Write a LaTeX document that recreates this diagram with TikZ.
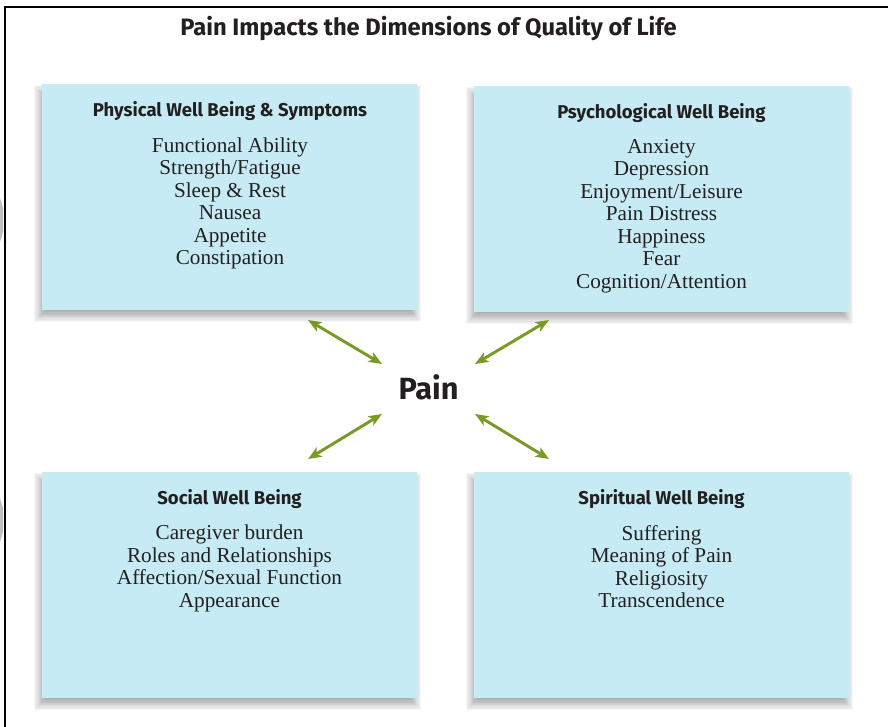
\documentclass[tikz,border=0pt]{standalone}
\usepackage{fontspec}
\setmainfont{Liberation Serif}
\setsansfont{Fira Sans}
\usetikzlibrary{arrows.meta}
\definecolor{boxfill}{RGB}{198,235,244}
\definecolor{arrowgreen}{RGB}{122,154,38}
\definecolor{ink}{RGB}{35,31,32}
\newcommand\softshadow[4]{%
  \foreach \d in {-6,-4.8,...,6.1} {%
    \fill[black,opacity=0.035] ({#1-2-(\d)},{#2+7-(\d)}) rectangle ({#3-2+(\d)},{#4+6+(\d)});
  }%
}
\begin{document}
\begin{tikzpicture}[x=0.75pt,y=-0.75pt,
  qbox/.style={rectangle, fill=boxfill, minimum width=281.25pt, minimum height=169.5pt, inner sep=0pt},
  boxtitle/.style={font=\sffamily\bfseries\fontsize{13.9}{16}\selectfont, text=ink, anchor=base, inner sep=0pt},
  items/.style={font=\fontsize{15.9}{16.85}\selectfont, text=ink, align=center, anchor=north, inner sep=0pt},
  link/.style={draw=arrowgreen, line width=2.2pt, {Stealth[length=10pt,width=8pt,inset=2.5pt]}-{Stealth[length=10pt,width=8pt,inset=2.5pt]}}
]
\path[use as bounding box, fill=white] (0,0) rectangle (888,727);
% page artifacts at left edge
\fill[black!25] (0,198) -- (3,208) -- (3,232) -- (0,242) -- cycle;
\fill[black!25] (0,498) -- (3,508) -- (3,532) -- (0,542) -- cycle;
% frame
\draw[black, line width=1.5pt] (5,727) -- (5,7) -- (888,7);

\node[font=\sffamily\bfseries\fontsize{17.8}{21}\selectfont, text=ink, anchor=base, inner sep=0pt] (title) at (428.5,36) {Pain Impacts the Dimensions of Quality of Life};

\softshadow{42}{84}{417}{310}
\softshadow{474}{86}{849}{312}
\softshadow{42}{472}{417}{698}
\softshadow{474}{472}{849}{698}

\node[qbox] (phys) at (229.5,197) {};
\node[qbox] (psych) at (661.5,199) {};
\node[qbox] (soc) at (229.5,585) {};
\node[qbox] (spir) at (661.5,585) {};

\node[boxtitle] (physT) at (230,116.5) {Physical Well Being \& Symptoms};
\node[items] (physI) at (230,137.5) {Functional Ability\\Strength/Fatigue\\Sleep \& Rest\\Nausea\\Appetite\\Constipation};

\node[boxtitle] (psychT) at (661.5,118.5) {Psychological Well Being};
\node[items] (psychI) at (661.5,139) {Anxiety\\Depression\\Enjoyment/Leisure\\Pain Distress\\Happiness\\Fear\\Cognition/Attention};

\node[boxtitle] (socT) at (229.5,504.5) {Social Well Being};
\node[items] (socI) at (229.5,525) {Caregiver burden\\Roles and Relationships\\Affection/Sexual Function\\Appearance};

\node[boxtitle] (spirT) at (661.5,504.5) {Spiritual Well Being};
\node[items] (spirI) at (661.5,525) {Suffering\\Meaning of Pain\\Religiosity\\Transcendence};

\node[font=\sffamily\bfseries\fontsize{23}{28}\selectfont, text=ink, anchor=base, inner sep=0pt] (pain) at (428.5,399) {Pain};

\coordinate (a1) at (308,320);
\coordinate (a2) at (382,364);
\coordinate (b1) at (475,364);
\coordinate (b2) at (549,320);
\coordinate (c1) at (308,459);
\coordinate (c2) at (382,414);
\coordinate (d1) at (475,414);
\coordinate (d2) at (549,459);
\draw[link] (a1) -- (a2);
\draw[link] (b1) -- (b2);
\draw[link] (c1) -- (c2);
\draw[link] (d1) -- (d2);
\end{tikzpicture}
\end{document}
